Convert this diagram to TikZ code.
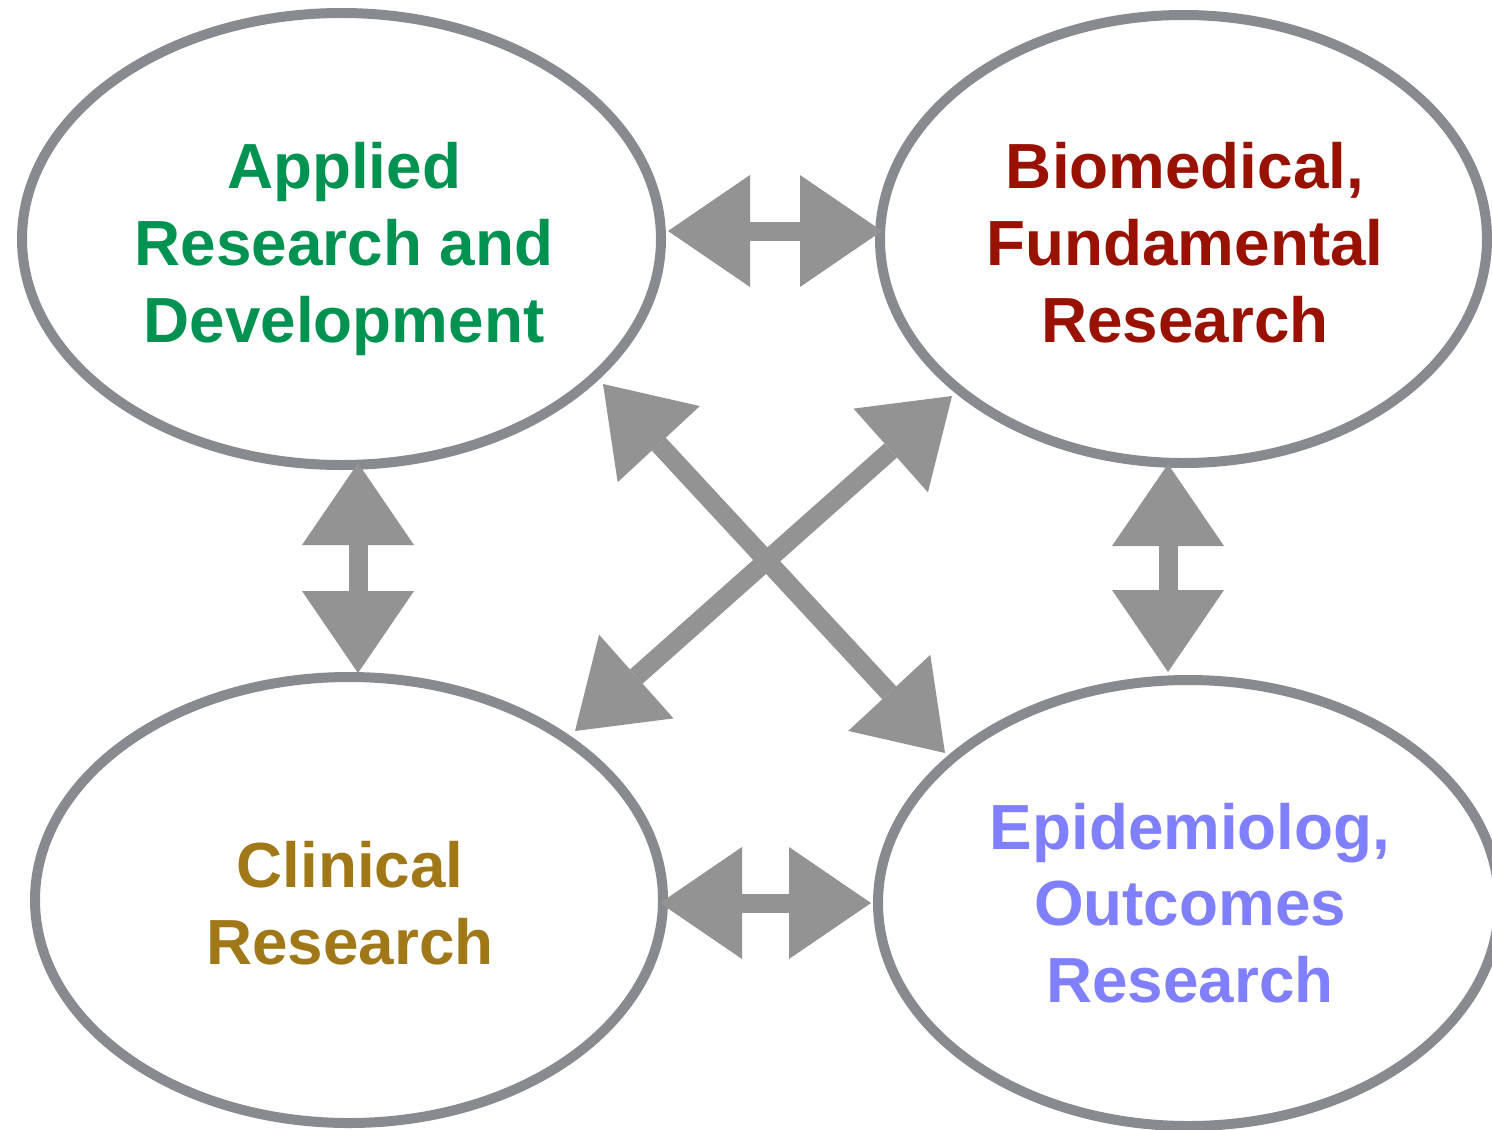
\documentclass[tikz,border=0pt]{standalone}
\usepackage{fontspec}
\setmainfont{Liberation Sans}
\usetikzlibrary{shapes.geometric,arrows.meta}
\definecolor{ellgray}{RGB}{135,138,143}
\definecolor{arrgray}{RGB}{147,147,147}
\definecolor{cgreen}{RGB}{0,146,80}
\definecolor{cred}{RGB}{153,17,0}
\definecolor{cgold}{RGB}{160,120,24}
\definecolor{cblue}{RGB}{128,128,255}
\tikzset{
  ell/.style={ellipse, draw=ellgray, line width=5pt, inner sep=0pt, outer sep=0pt},
  lbl/.style={anchor=base, inner sep=0pt, font=\fontsize{31.9pt}{38.5pt}\selectfont\bfseries},
  blk/.style={draw=arrgray, line width=9.5pt,
    {Triangle[length=41pt,width=56pt,line width=0pt]}-{Triangle[length=41pt,width=56pt,line width=0pt]}}
}
\begin{document}
\begin{tikzpicture}[x=0.5pt,y=-0.5pt]
\useasboundingbox (0,0) rectangle (1492,1129);
% ellipses
\node[ell, minimum width=319.5pt, minimum height=226pt] (TL) at (341.5,239) {};
\node[ell, minimum width=303.5pt, minimum height=224pt] (TR) at (1183.5,239) {};
\node[ell, minimum width=314pt, minimum height=223pt] (BL) at (349,900) {};
\node[ell, minimum width=310.5pt, minimum height=223pt] (BR) at (1188.5,903) {};
% labels
\node[lbl, text=cgreen] (tl1) at (344,188) {Applied};
\node[lbl, text=cgreen] (tl2) at (344,265) {Research and};
\node[lbl, text=cgreen] (tl3) at (344,342) {Development};
\node[lbl, text=cred] (tr1) at (1185,188) {Biomedical,};
\node[lbl, text=cred] (tr2) at (1185,265) {Fundamental};
\node[lbl, text=cred] (tr3) at (1185,342) {Research};
\node[lbl, text=cgold] (bl1) at (350,887) {Clinical};
\node[lbl, text=cgold] (bl2) at (350,964) {Research};
\node[lbl, text=cblue] (br1) at (1190,849) {Epidemiolog,};
\node[lbl, text=cblue] (br2) at (1190,925) {Outcomes};
\node[lbl, text=cblue] (br3) at (1190,1002) {Research};
% arrow end points
\coordinate (a1s) at (668,231);  \coordinate (a1e) at (882,231);
\coordinate (a2s) at (358,463);  \coordinate (a2e) at (358,673);
\coordinate (a3s) at (1168,464); \coordinate (a3e) at (1168,672);
\coordinate (a4s) at (660,903);  \coordinate (a4e) at (871,903);
\coordinate (a5s) at (603,384);  \coordinate (a5e) at (945,753);
\coordinate (a6s) at (575,731);  \coordinate (a6e) at (952,396);
% arrows
\draw[blk] (a1s) -- (a1e);
\draw[blk] (a2s) -- (a2e);
\draw[blk] (a3s) -- (a3e);
\draw[blk] (a4s) -- (a4e);
\draw[blk] (a5s) -- (a5e);
\draw[blk] (a6s) -- (a6e);
\end{tikzpicture}
\end{document}
